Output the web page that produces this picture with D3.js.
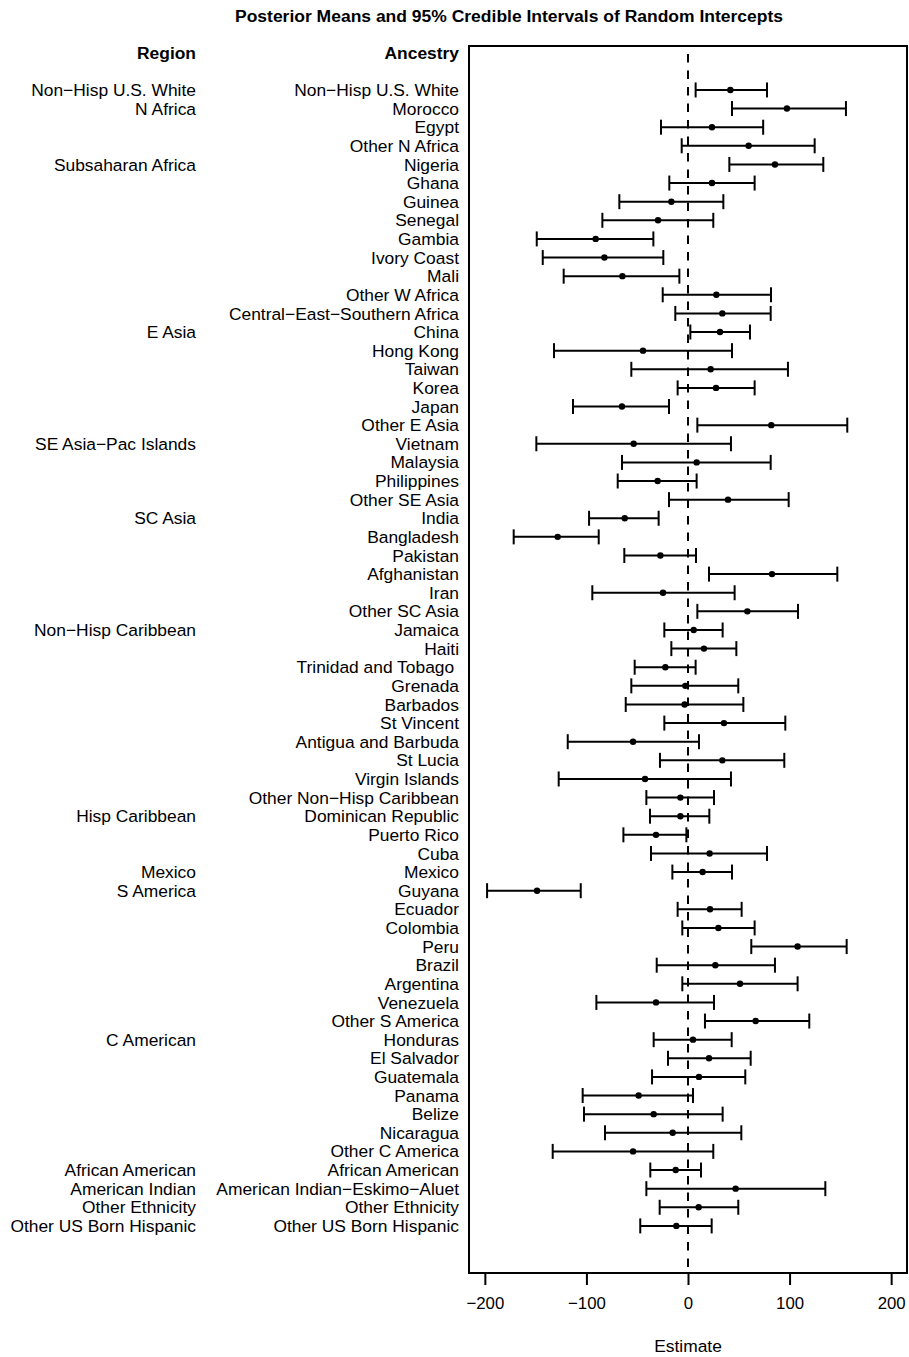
<!DOCTYPE html>
<html>
<head>
<meta charset="utf-8">
<script src="https://cdn.jsdelivr.net/npm/d3@7"></script>
<style>
  body { margin: 0; background: #fff; }
  text { font-family: "Liberation Sans", Arial, sans-serif; fill: #000; }
</style>
</head>
<body>
<div id="chart"></div>
<script>
// data
var ancestry = ["Non−Hisp U.S. White", "Morocco", "Egypt", "Other N Africa", "Nigeria", "Ghana",
  "Guinea", "Senegal", "Gambia", "Ivory Coast", "Mali", "Other W Africa",
  "Central−East−Southern Africa", "China", "Hong Kong", "Taiwan", "Korea", "Japan",
  "Other E Asia", "Vietnam", "Malaysia", "Philippines", "Other SE Asia", "India",
  "Bangladesh", "Pakistan", "Afghanistan", "Iran", "Other SC Asia", "Jamaica", "Haiti",
  "Trinidad and Tobago ", "Grenada", "Barbados", "St Vincent", "Antigua and Barbuda",
  "St Lucia", "Virgin Islands", "Other Non−Hisp Caribbean", "Dominican Republic",
  "Puerto Rico", "Cuba", "Mexico", "Guyana", "Ecuador", "Colombia", "Peru", "Brazil",
  "Argentina", "Venezuela", "Other S America", "Honduras", "El Salvador", "Guatemala",
  "Panama", "Belize", "Nicaragua", "Other C America", "African American",
  "American Indian−Eskimo−Aluet", "Other Ethnicity", "Other US Born Hispanic"];

var regions = [
  ["Non−Hisp U.S. White", 0], ["N Africa", 1], ["Subsaharan Africa", 4], ["E Asia", 13],
  ["SE Asia−Pac Islands", 19], ["SC Asia", 23], ["Non−Hisp Caribbean", 29],
  ["Hisp Caribbean", 39], ["Mexico", 42], ["S America", 43], ["C American", 51],
  ["African American", 58], ["American Indian", 59], ["Other Ethnicity", 60],
  ["Other US Born Hispanic", 61]];

var means = [41.7, 97.4, 23.6, 59.7, 85.6, 23.6, -16.4, -29.5, -90.9, -82.3, -64.6, 27.9,
  33.8, 31.5, -44.3, 22.3, 27.6, -65, 82, -53.5, 8.5, -29.9, 39.4, -62.3, -128.3,
  -27.2, 82.7, -24.6, 58.4, 5.6, 15.7, -22.3, -2.6, -3.3, 35.4, -54.1, 33.8, -42.3,
  -7.5, -7.5, -31.5, 21.3, 14.4, -148.6, 21.7, 29.9, 107.9, 26.9, 51.2, -31.5, 66.6,
  4.9, 20.7, 10.8, -48.6, -33.8, -15.1, -54.1, -12.1, 46.9, 10.5, -11.5];

var lower = [7.5, 43.3, -26.6, -6.2, 40.7, -18.4, -67.6, -84.3, -148.9, -143, -122.4, -24.9,
  -12.5, 2.3, -131.9, -55.8, -10.2, -113.2, 9.2, -149.3, -65, -69.2, -18.7, -97.4, -171.6,
  -62.7, 20.7, -94.2, 9.2, -23.3, -16.4, -52.5, -55.8, -61.3, -23.3, -118.4, -27.6, -127.3,
  -41, -37.4, -63.6, -36.4, -15.4, -197.8, -10.2, -5.6, 62.3, -30.8, -5.6, -90.2, 16.7,
  -33.8, -19.7, -35.4, -103.7, -102.4, -81.7, -133.2, -37.1, -41, -27.9, -47];

var upper = [77.8, 155.5, 74, 124.7, 133.2, 65.6, 34.8, 24.9, -34.1, -24.3, -8.5, 81.7,
  81.4, 61, 43.3, 98.4, 65.6, -18.7, 156.8, 42.3, 81.4, 8.5, 99.1, -28.9, -87.9,
  7.9, 147, 45.9, 108.3, 34.1, 47.6, 7.5, 49.5, 54.5, 95.8, 10.8, 94.8, 42.3,
  25.6, 21, -1.6, 77.8, 43.3, -105.6, 52.8, 65.6, 156.2, 85.6, 107.9, 25.6, 119.4,
  43, 61.7, 56.4, 4.9, 34.1, 52.5, 24.9, 12.8, 135.2, 49.5, 23.3];

var xTicks = [-200, -100, 0, 100, 200];

var width = 909, height = 1357;
var labelSize = "17.4px";

var svg = d3.select("#chart").append("svg")
  .attr("width", width)
  .attr("height", height);

// plot box
var boxLeft = 469, boxRight = 907, boxTop = 46, boxBottom = 1273;

var x = d3.scaleLinear().domain([-215.6, 215.6]).range([boxLeft, boxRight]);
var y = d3.scaleLinear().domain([-2.36, 63.53]).range([boxTop, boxBottom]);

var data = ancestry.map(function(a, i) {
  return { name: a, i: i, mean: means[i], lo: lower[i], hi: upper[i] };
});

// title
svg.append("text")
  .attr("x", 509).attr("y", 22)
  .attr("text-anchor", "middle")
  .style("font-size", "17.4px").style("font-weight", "bold")
  .attr("textLength", 548).attr("lengthAdjust", "spacingAndGlyphs")
  .text("Posterior Means and 95% Credible Intervals of Random Intercepts");

// column headers
svg.append("text").attr("x", 196).attr("y", y(-2)).attr("dy", "0.35em")
  .attr("text-anchor", "end").style("font-size", labelSize).style("font-weight", "bold")
  .text("Region");
svg.append("text").attr("x", 459).attr("y", y(-2)).attr("dy", "0.35em")
  .attr("text-anchor", "end").style("font-size", labelSize).style("font-weight", "bold")
  .text("Ancestry");

// labels
svg.append("g").selectAll("text")
  .data(regions).enter().append("text")
  .attr("x", 196).attr("y", function(d) { return y(d[1]); }).attr("dy", "0.35em")
  .attr("text-anchor", "end").style("font-size", labelSize)
  .text(function(d) { return d[0]; });

svg.append("g").selectAll("text")
  .data(data).enter().append("text")
  .attr("x", 459).attr("y", function(d) { return y(d.i); }).attr("dy", "0.35em")
  .attr("text-anchor", "end").style("font-size", labelSize).style("white-space", "pre")
  .text(function(d) { return d.name; });

// zero reference line
svg.append("line")
  .attr("x1", x(0)).attr("x2", x(0))
  .attr("y1", boxTop + 8).attr("y2", boxBottom)
  .attr("stroke", "#000").attr("stroke-width", 2)
  .attr("stroke-dasharray", "8.5,8");

// intervals
var cap = 7.5;
var g = svg.append("g").attr("stroke", "#000").attr("stroke-width", 2);
g.selectAll(".bar").data(data).enter().append("line")
  .attr("x1", function(d) { return x(d.lo); }).attr("x2", function(d) { return x(d.hi); })
  .attr("y1", function(d) { return y(d.i); }).attr("y2", function(d) { return y(d.i); });
g.selectAll(".capl").data(data).enter().append("line")
  .attr("x1", function(d) { return x(d.lo); }).attr("x2", function(d) { return x(d.lo); })
  .attr("y1", function(d) { return y(d.i) - cap; }).attr("y2", function(d) { return y(d.i) + cap; });
g.selectAll(".caph").data(data).enter().append("line")
  .attr("x1", function(d) { return x(d.hi); }).attr("x2", function(d) { return x(d.hi); })
  .attr("y1", function(d) { return y(d.i) - cap; }).attr("y2", function(d) { return y(d.i) + cap; });

svg.append("g").selectAll("circle").data(data).enter().append("circle")
  .attr("cx", function(d) { return x(d.mean); })
  .attr("cy", function(d) { return y(d.i); })
  .attr("r", 3.2).attr("fill", "#000");

// box
svg.append("rect")
  .attr("x", boxLeft).attr("y", boxTop)
  .attr("width", boxRight - boxLeft).attr("height", boxBottom - boxTop)
  .attr("fill", "none").attr("stroke", "#000").attr("stroke-width", 2);

// x axis
var xAxis = svg.append("g")
  .attr("transform", "translate(0," + boxBottom + ")")
  .call(d3.axisBottom(x).tickValues(xTicks).tickSize(12).tickPadding(12).tickFormat(d3.format("d")));
xAxis.select(".domain").remove();
xAxis.selectAll("line").attr("stroke-width", 2);
xAxis.selectAll("text").style("font-size", "16.8px")
  .style("font-family", "'Liberation Sans', Arial, sans-serif");

svg.append("text")
  .attr("x", x(0)).attr("y", 1346).attr("dy", "0.35em")
  .attr("text-anchor", "middle").style("font-size", labelSize)
  .text("Estimate");
</script>
</body>
</html>
